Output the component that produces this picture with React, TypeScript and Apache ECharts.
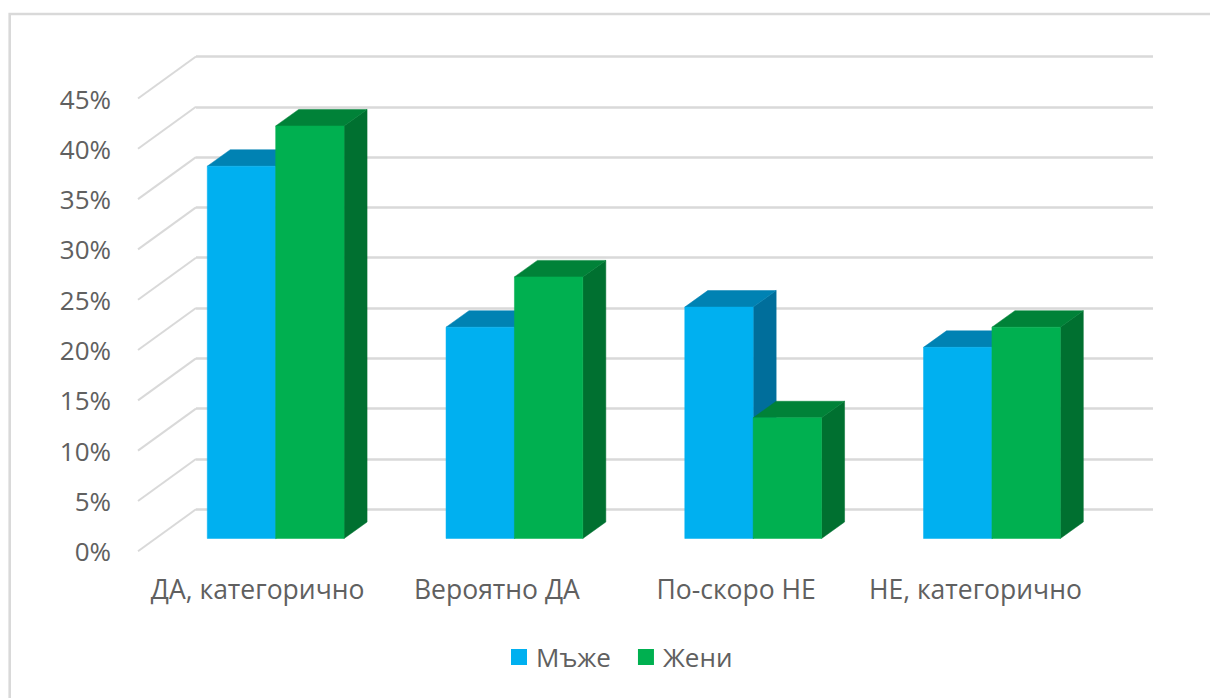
import React, { useEffect, useRef } from "react";
import * as echarts from "echarts";

const categories = ["ДА, категорично", "Вероятно ДА", "По-скоро НЕ", "НЕ, категорично"];
const menValues = [37, 21, 23, 19];
const womenValues = [41, 26, 12, 21];
const axisTicks = [0, 5, 10, 15, 20, 25, 30, 35, 40, 45];
const seriesNames = ["Мъже", "Жени"];

const FONT = "'Open Sans', sans-serif";
const TEXT = "#606060";
const LINE = "#d9d9d9";

const WALL = { left: 196, width: 957, top: 56.5, height: 452.8 };
const FLOOR = { left: 138, width: 957, top: 98.5, height: 452.8 };
const BARS = { left: 156.3, width: 955, top: 85.7, height: 452.8 };
const DEPTH_X = 23;
const DEPTH_Y = 16.5;
const BAR_RATIO = 0.2865;

function barRenderer(offsetBars: number, front: string, top: string, side: string) {
  return (_p: any, api: any) => {
    const cat = api.value(0);
    const val = api.value(1);
    const bw = api.size([1, 0])[0] * BAR_RATIO;
    const topPt = api.coord([cat, val]);
    const basePt = api.coord([cat, 0]);
    const x0 = topPt[0] + offsetBars * bw;
    const x1 = x0 + bw;
    const y0 = topPt[1];
    const yb = basePt[1];
    const poly = (points: number[][], fill: string) => ({
      type: "polygon",
      shape: { points },
      style: { fill, stroke: fill, lineWidth: 0.5 },
    });
    return {
      type: "group",
      children: [
        poly([[x1, y0], [x1 + DEPTH_X, y0 - DEPTH_Y], [x1 + DEPTH_X, yb - DEPTH_Y], [x1, yb]], side),
        poly([[x0, y0], [x0 + DEPTH_X, y0 - DEPTH_Y], [x1 + DEPTH_X, y0 - DEPTH_Y], [x1, y0]], top),
        poly([[x0, y0], [x1, y0], [x1, yb], [x0, yb]], front),
      ],
    };
  };
}

const wallDiagonals = (params: any, api: any) => {
  const sys = params.coordSys;
  const y = api.coord([0, api.value(1)])[1];
  return {
    type: "line",
    shape: { x1: FLOOR.left, y1: y + (FLOOR.top - WALL.top), x2: sys.x, y2: y },
    style: { stroke: LINE, lineWidth: 2 },
  };
};

const valueAxis = (gridIndex: number, extra: any) => ({
  type: "value",
  gridIndex,
  min: 0,
  max: 45,
  interval: 5,
  axisLine: { show: false },
  axisTick: { show: false },
  ...extra,
});

export default function App() {
  const ref = useRef<HTMLDivElement>(null);
  useEffect(() => {
    const chart = echarts.init(ref.current!, undefined, { renderer: "svg" });
    chart.setOption({
      animation: false,
      backgroundColor: "#ffffff",
      grid: [WALL, FLOOR, BARS],
      xAxis: [
        { type: "category", gridIndex: 0, data: categories, show: false },
        {
          type: "category",
          gridIndex: 1,
          data: categories,
          axisLine: { show: false },
          axisTick: { show: false },
          axisLabel: { color: TEXT, fontFamily: FONT, fontSize: 26.5, margin: 24, interval: 0 },
        },
        { type: "category", gridIndex: 2, data: categories, show: false },
      ],
      yAxis: [
        valueAxis(0, {
          axisLabel: { show: false },
          splitLine: { show: true, lineStyle: { color: LINE, width: 2.5 } },
        }),
        valueAxis(1, {
          splitLine: { show: false },
          axisLabel: {
            color: TEXT,
            fontFamily: FONT,
            fontSize: 26,
            margin: 27,
            padding: [3, 0, 0, 0],
            formatter: "{value}%",
          },
        }),
        valueAxis(2, { show: false, splitLine: { show: false } }),
      ],
      legend: {
        data: seriesNames,
        left: 506,
        top: 639,
        icon: "rect",
        itemWidth: 16,
        itemHeight: 16,
        itemGap: 27,
        textStyle: { color: TEXT, fontFamily: FONT, fontSize: 26, padding: [0, 0, 0, 4] },
      },
      graphic: [
        {
          type: "polyline",
          shape: { points: [[9.7, 698], [9.7, 14], [1210, 14]] },
          style: { stroke: LINE, lineWidth: 2.6, fill: "none" },
          silent: true,
        },
      ],
      series: [
        {
          type: "custom",
          name: "diagonals",
          xAxisIndex: 0,
          yAxisIndex: 0,
          silent: true,
          renderItem: wallDiagonals,
          data: axisTicks.map((t) => [0, t]),
          encode: { x: 0, y: 1 },
        },
        {
          type: "custom",
          name: seriesNames[0],
          xAxisIndex: 2,
          yAxisIndex: 2,
          z: 3,
          itemStyle: { color: "#00B0F0" },
          renderItem: barRenderer(-1, "#00B0F0", "#0082B3", "#006E9B"),
          data: menValues.map((v, i) => [i, v]),
          encode: { x: 0, y: 1 },
        },
        {
          type: "custom",
          name: seriesNames[1],
          xAxisIndex: 2,
          yAxisIndex: 2,
          z: 4,
          itemStyle: { color: "#00B050" },
          renderItem: barRenderer(0, "#00B050", "#008238", "#007030"),
          data: womenValues.map((v, i) => [i, v]),
          encode: { x: 0, y: 1 },
        },
      ],
    });
    return () => chart.dispose();
  }, []);
  return <div ref={ref} style={{ position: "fixed", left: 0, top: 0, width: 1210, height: 698 }} />;
}
